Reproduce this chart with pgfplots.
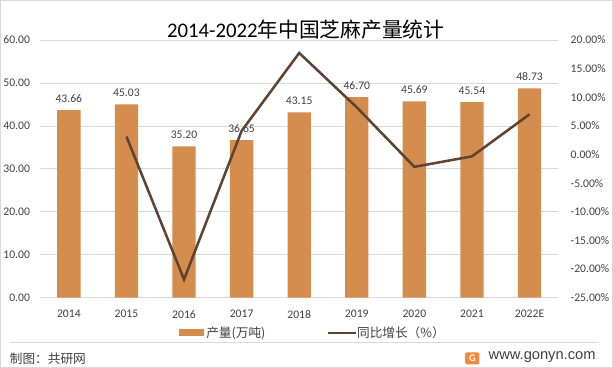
\documentclass[border=0pt]{standalone}
\usepackage{pgfplots}
\pgfplotsset{compat=1.18}
\usepackage{fontspec}
\setmainfont{Carlito}
\newfontfamily\cjk{Noto Sans CJK SC}
\newfontfamily\webfont{Liberation Sans}
\definecolor{barc}{HTML}{D58D4E}
\definecolor{linec}{HTML}{5E4331}
\definecolor{txt}{HTML}{404040}
\definecolor{gridc}{HTML}{D9D9D9}
\definecolor{logoc}{HTML}{F08A3C}
\begin{document}
\begin{tikzpicture}
\begin{axis}[
  name=ax,
  scale only axis, width=512pt, height=254.5pt,
  xmin=-0.5, xmax=8.5, ymin=0, ymax=60,
  axis y line*=left, axis x line*=bottom,
  x axis line style={gridc, line width=0.8pt},
  y axis line style={draw=none},
  xtick={0,...,8},
  xticklabels={2014,2015,2016,2017,2018,2019,2020,2021,2022E},
  ytick={0,10,...,60},
  major tick length=0pt,
  ymajorgrids, grid style={gridc, line width=0.6pt},
  tick label style={font=\fontsize{11.5}{13}\selectfont, text=txt},
  /pgf/number format/assume math mode=true,
  yticklabel={\pgfmathprintnumber[fixed,fixed zerofill,precision=2]{\tick}},
  xticklabel style={yshift=-9pt},
  yticklabel style={xshift=-6.5pt},
  nodes near coords, point meta=explicit symbolic,
  every node near coord/.append style={font=\fontsize{11.5}{13}\selectfont, text=txt, yshift=4pt},
  clip=false,
]
\addplot[ybar, bar width=23pt, fill=barc, draw=none] coordinates {
(0,43.66)[43.66] (1,45.03)[45.03] (2,35.20)[35.20] (3,36.65)[36.65] (4,43.15)[43.15] (5,46.70)[46.70] (6,45.69)[45.69] (7,45.54)[45.54] (8,48.73)[48.73]};
% frame and decorations relative to the axis corner (pixel 43,297)
\draw[gridc,line width=1pt] ([xshift=-39pt,yshift=293.5pt]rel axis cs:0,0) rectangle ([xshift=565.5pt,yshift=-69pt]rel axis cs:0,0);
\draw[gridc,line width=0.8pt] ([xshift=-30pt,yshift=-44pt]rel axis cs:0,0) -- ([xshift=552pt,yshift=-44pt]rel axis cs:0,0);
\node[anchor=center,font=\fontsize{20.5}{24}\selectfont,text=black,inner sep=0pt] at ([xshift=262.5pt,yshift=265pt]rel axis cs:0,0) {2014-2022{\cjk 年中国芝麻产量统计}};
\node[anchor=west,font=\cjk\fontsize{12.5}{14}\selectfont,text=txt,inner sep=0pt] at ([xshift=-30pt,yshift=-60pt]rel axis cs:0,0) {制图：共研网};
\fill[logoc,rounded corners=1.5pt] ([xshift=420pt,yshift=-66pt]rel axis cs:0,0) rectangle ([xshift=434pt,yshift=-54pt]rel axis cs:0,0);
\node[font=\bfseries\fontsize{10}{10}\selectfont,text=white,inner sep=0pt] at ([xshift=427pt,yshift=-60pt]rel axis cs:0,0) {G};
\node[anchor=west,font=\webfont\fontsize{14.5}{16}\selectfont,text=txt,inner sep=0pt] at ([xshift=443pt,yshift=-59pt]rel axis cs:0,0) {www.gonyn.com};
\fill[barc] ([xshift=137pt,yshift=-38pt]rel axis cs:0,0) rectangle ([xshift=162pt,yshift=-31.5pt]rel axis cs:0,0);
\node[anchor=west,font=\cjk\fontsize{12.5}{14}\selectfont,text=txt,inner sep=0pt] at ([xshift=164pt,yshift=-35pt]rel axis cs:0,0) {产量(万吨)};
\draw[linec,line width=2.5pt] ([xshift=284pt,yshift=-35pt]rel axis cs:0,0) -- ([xshift=312pt,yshift=-35pt]rel axis cs:0,0);
\node[anchor=west,font=\cjk\fontsize{12.5}{14}\selectfont,text=txt,inner sep=0pt] at ([xshift=313pt,yshift=-35pt]rel axis cs:0,0) {同比增长（\%）};
\end{axis}
\begin{axis}[
  at={(ax.south west)}, anchor=south west,
  scale only axis, width=512pt, height=254.5pt,
  xmin=-0.5, xmax=8.5, ymin=-25, ymax=20,
  axis y line*=right, axis x line=none,
  y axis line style={draw=none},
  ytick={-25,-20,...,20},
  major tick length=0pt,
  tick label style={font=\fontsize{11.5}{13}\selectfont, text=txt},
  yticklabel style={anchor=west, xshift=8.7pt},
  /pgf/number format/assume math mode=true,
  yticklabel={\pgfmathprintnumber[fixed,fixed zerofill,precision=2]{\tick}\%},
  clip=false,
]
\addplot[linec, line width=2.5pt] coordinates {
(1,3.14) (2,-21.83) (3,4.12) (4,17.73) (5,8.23) (6,-2.16) (7,-0.33) (8,7.01)};
\end{axis}
\end{tikzpicture}
\end{document}
